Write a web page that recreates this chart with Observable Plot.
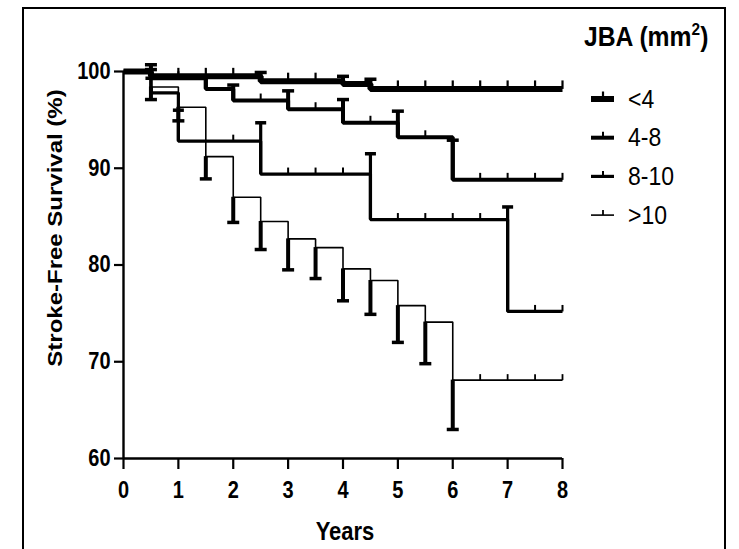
<!DOCTYPE html>
<html>
<head>
<meta charset="utf-8">
<script src="https://cdn.jsdelivr.net/npm/d3@7"></script>
<script src="https://cdn.jsdelivr.net/npm/@observablehq/plot@0.6"></script>
<style>
  html, body { margin: 0; padding: 0; background: #fff; }
  #wrap { position: relative; width: 739px; height: 549px; overflow: hidden; background: #fff; }
  #frame { position: absolute; left: 22px; top: 7px; width: 700px; height: 600px; border: 2px solid #000; pointer-events: none; }
  #wrap svg { position: absolute; left: 0; top: 0; }
</style>
</head>
<body>
<div id="wrap"><div id="frame"></div></div>
<script>
// ---------- data ----------
const xTicks = [0, 1, 2, 3, 4, 5, 6, 7, 8];
const yTicks = [60, 70, 80, 90, 100];
const groups = ["<4", "4-8", "8-10", ">10"];
const legendTitle = "JBA (mm";
const xLabel = "Years";
const yLabel = "Stroke-Free Survival (%)";

// JBA < 4
const lt4Time = [0, 0.5, 2.5, 4, 4.5, 8];
const lt4Surv = [100, 99.5, 99.0, 98.7, 98.2, 98.2];
const lt4ErrTime = [0.5, 2.5, 4, 4.5];
const lt4ErrBound = [100.7, 99.9, 99.5, 99.2];
const lt4Censor = [1, 1.5, 2, 3, 3.5, 5, 5.5, 6, 6.5, 7, 7.5, 8];

// JBA 4-8
const g48Time = [0, 0.5, 1.5, 2, 3, 4, 5, 6, 8];
const g48Surv = [100, 99.3, 98.2, 97.0, 96.1, 94.7, 93.2, 88.8, 88.8];
const g48ErrTime = [0.5, 1.5, 2, 3, 4, 5, 6];
const g48ErrBound = [100.2, 99.5, 98.6, 98.0, 97.1, 95.9, 92.9];
const g48Censor = [1, 2.5, 3.5, 4.5, 5.5, 6.5, 7, 7.5, 8];

// JBA 8-10
const g810Time = [0, 0.5, 1, 2.5, 4.5, 7, 8];
const g810Surv = [100, 97.8, 92.8, 89.4, 84.7, 75.2, 75.2];
const g810ErrTime = [0.5, 1, 2.5, 4.5, 7];
const g810ErrBound = [99.3, 96.0, 94.7, 91.5, 86.0];
const g810Censor = [2, 3, 3.5, 4, 5, 5.5, 6, 6.5, 7.5, 8];

// JBA > 10
const gt10Time = [0, 0.5, 1, 1.5, 2, 2.5, 3, 3.5, 4, 4.5, 5, 5.5, 6, 8];
const gt10Surv = [100, 98.4, 96.3, 91.2, 87.0, 84.5, 82.7, 81.8, 79.6, 78.4, 75.8, 74.1, 68.1, 68.1];
const gt10ErrTime = [0.5, 1, 1.5, 2, 2.5, 3, 3.5, 4, 4.5, 5, 5.5, 6];
const gt10ErrBound = [97.1, 94.9, 88.9, 84.4, 81.6, 79.5, 78.6, 76.3, 74.9, 72.0, 69.8, 63.0];
const gt10Censor = [6.5, 7, 7.5, 8];

// ---------- styles (per group, same order as groups) ----------
const lineWidths = [6, 4, 3.2, 1.6];
const errWidths = [4, 4, 3.2, 4];
const capWidths = [12, 12, 11, 12];
const censorHeights = [8.5, 7, 6.5, 6];
const censorWidths = [2.2, 2, 2, 1.8];

// ---------- helpers ----------
function valueAt(time, surv, t) {
  const i = d3.bisectRight(time, t) - 1;
  return surv[Math.max(0, Math.min(i, surv.length - 1))];
}
function build(time, surv, errTime, errBound, censor) {
  return {
    steps: time.map((t, i) => ({t, s: surv[i]})),
    errs: errTime.map((t, i) => ({t, s: valueAt(time, surv, t), e: errBound[i]})),
    cens: censor.map(t => ({t, s: valueAt(time, surv, t)}))
  };
}
const sets = [
  build(lt4Time, lt4Surv, lt4ErrTime, lt4ErrBound, lt4Censor),
  build(g48Time, g48Surv, g48ErrTime, g48ErrBound, g48Censor),
  build(g810Time, g810Surv, g810ErrTime, g810ErrBound, g810Censor),
  build(gt10Time, gt10Surv, gt10ErrTime, gt10ErrBound, gt10Censor)
];
const censorSymbol = h => ({draw(ctx) { ctx.moveTo(0, 0); ctx.lineTo(0, -h); }});
const capSymbol = w => ({draw(ctx) { ctx.moveTo(-w / 2, 0); ctx.lineTo(w / 2, 0); }});

// draw thin (>10) first, thick (<4) last
const marks = [];
for (let k = groups.length - 1; k >= 0; k--) {
  const d = sets[k];
  marks.push(
    Plot.ruleX(d.errs, {x: "t", y1: "s", y2: "e", stroke: "black", strokeWidth: errWidths[k]}),
    Plot.dot(d.errs, {x: "t", y: "e", symbol: capSymbol(capWidths[k]), fill: "none", stroke: "black", strokeWidth: 3.5}),
    Plot.line(d.steps, {x: "t", y: "s", curve: "step-after", stroke: "black", strokeWidth: lineWidths[k], strokeLinejoin: "miter", strokeLinecap: "butt"}),
    Plot.dot(d.cens, {x: "t", y: "s", symbol: censorSymbol(censorHeights[k]), fill: "none", stroke: "black", strokeWidth: censorWidths[k]})
  );
}

const chart = Plot.plot({
  width: 739,
  height: 549,
  marginLeft: 123,
  marginRight: 177,
  marginTop: 71,
  marginBottom: 91,
  x: {domain: [d3.min(xTicks), d3.max(xTicks)]},
  y: {domain: [d3.min(yTicks), d3.max(yTicks)]},
  style: {fontFamily: "'Liberation Sans', Arial, sans-serif", fontSize: "20px", fontWeight: "bold", color: "black", background: "transparent"},
  marks: [
    Plot.axisY({ticks: yTicks, tickSize: 9, tickPadding: 4, label: null, strokeWidth: 2.2, fontSize: 20}),
    Plot.axisX({ticks: xTicks, tickSize: 11, tickPadding: 12, label: null, strokeWidth: 2.2, fontSize: 20}),
    Plot.ruleX([d3.min(xTicks)], {y1: d3.min(yTicks), y2: d3.max(yTicks), strokeWidth: 2.4}),
    Plot.ruleY([d3.min(yTicks)], {x1: d3.min(xTicks), x2: d3.max(xTicks), strokeWidth: 2.6}),
    ...marks
  ]
});

document.getElementById("wrap").insertBefore(chart, document.getElementById("frame"));

const svg = d3.select(chart);
// slight vertical stretch of tick labels, like the source image
svg.selectAll('g[aria-label*="tick label"] text').each(function() {
  const tr = this.getAttribute("transform") || "";
  this.setAttribute("transform", tr + " scale(1,1.15)");
});

// axis titles
svg.append("text")
  .attr("transform", "translate(345,540) scale(1,1.2)")
  .attr("text-anchor", "middle")
  .attr("font-size", 22).attr("font-weight", "bold").attr("fill", "black")
  .text(xLabel);
svg.append("text")
  .attr("transform", "translate(62,228) scale(1,1.2) rotate(-90)")
  .attr("text-anchor", "middle")
  .attr("font-size", 20).attr("font-weight", "bold").attr("fill", "black")
  .text(yLabel);

// legend
const leg = svg.append("g").attr("text-anchor", "start");
const title = leg.append("text")
  .attr("transform", "translate(584,46) scale(1.03,1.15)")
  .attr("text-anchor", "start")
  .attr("font-size", 24).attr("font-weight", "bold").attr("fill", "black");
title.append("tspan").text(legendTitle);
title.append("tspan").attr("font-size", 15).attr("dy", -10).text("2");
title.append("tspan").attr("dy", 10).text(")");

groups.forEach((g, k) => {
  const cy = 99 + k * 38.7;
  const row = leg.append("g").attr("transform", `translate(0,${cy})`);
  row.append("line").attr("x1", 591).attr("x2", 614).attr("y1", 0).attr("y2", 0)
    .attr("stroke", "black").attr("stroke-width", lineWidths[k]);
  row.append("line").attr("x1", 603).attr("x2", 603).attr("y1", 0).attr("y2", -censorHeights[k] + 1)
    .attr("stroke", "black").attr("stroke-width", censorWidths[k]);
  row.append("text").attr("transform", "translate(628,8.5) scale(1,1.15)")
    .attr("text-anchor", "start")
    .attr("font-size", 23).attr("font-weight", "normal").attr("fill", "black")
    .text(g);
});
</script>
</body>
</html>
